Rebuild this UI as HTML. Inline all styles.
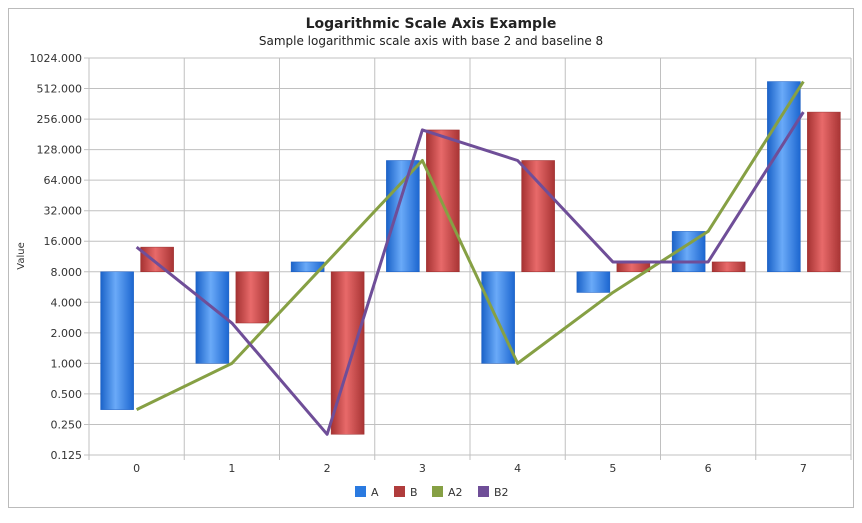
<!DOCTYPE html>
<html><head><meta charset="utf-8"><style>
body{margin:0;background:#fff;}
svg text{font-family:"DejaVu Sans","Liberation Sans",sans-serif;}
</style></head><body>
<svg id="chart" width="862" height="518" xmlns="http://www.w3.org/2000/svg">
<defs>
<linearGradient id="gA" x1="0" x2="1" y1="0" y2="0"><stop offset="0" stop-color="#1a62c8"/><stop offset="0.45" stop-color="#6aaaf8"/><stop offset="1" stop-color="#1c66d0"/></linearGradient>
<linearGradient id="gB" x1="0" x2="1" y1="0" y2="0"><stop offset="0" stop-color="#a53232"/><stop offset="0.45" stop-color="#e86a6a"/><stop offset="1" stop-color="#a83434"/></linearGradient>
</defs>
<rect x="8.5" y="8.5" width="845" height="499" fill="#fff" stroke="#bbb"/>
<text x="431" y="28" text-anchor="middle" font-size="14" font-weight="bold" fill="#222">Logarithmic Scale Axis Example</text>
<text x="431" y="45" text-anchor="middle" font-size="12" fill="#222">Sample logarithmic scale axis with base 2 and baseline 8</text>
<text transform="translate(24,256) rotate(-90)" text-anchor="middle" font-size="10" fill="#333">Value</text>
<g id="grid"></g><g id="bars"></g><g id="lines"></g><g id="legend"></g>
</svg>
<script>
const categories=["0","1","2","3","4","5","6","7"];
const seriesA=[0.35,1,10,100,1,5,20,600];
const seriesB=[14,2.5,0.2,200,100,10,10,300];
const seriesA2=[0.35,1,10,100,1,5,20,600];
const seriesB2=[14,2.5,0.2,200,100,10,10,300];
const yTicks=[0.125,0.25,0.5,1,2,4,8,16,32,64,128,256,512,1024];
const baseline=8;
const NS="http://www.w3.org/2000/svg";
const L=89,R=851,T=58,B=455;
const lmin=Math.log2(0.125),lmax=Math.log2(1024);
function y(v){return B-(Math.log2(v)-lmin)/(lmax-lmin)*(B-T);}
const bw=(R-L)/categories.length;
function xc(i){return L+bw*(i+0.5);}
function mk(tag,attrs,parent){const e=document.createElementNS(NS,tag);for(const k in attrs)e.setAttribute(k,attrs[k]);parent.appendChild(e);return e;}
const grid=document.getElementById('grid');
yTicks.forEach(t=>{
 const l=mk('line',{x1:L-5,x2:R,y1:y(t),y2:y(t),stroke:'#c0c0c0'},grid);
 
 
 const tx=mk('text',{x:L-7,y:y(t)+4,'text-anchor':'end','font-size':11,fill:'#333'},grid);
 tx.textContent=t.toFixed(3);
 
 
});
for(let i=0;i<=categories.length;i++){
 const x=L+bw*i;
 const l=mk('line',{x1:x,x2:x,y1:T,y2:B+5,stroke:'#c0c0c0'},grid);
 
 
}
categories.forEach((c,i)=>{
 const tx=mk('text',{x:xc(i),y:B+17,'text-anchor':'middle','font-size':11,fill:'#333'},grid);
 tx.textContent=c;
 
 
});
const bars=document.getElementById('bars');
function drawBars(arr,off,fill,stroke,name){
 arr.forEach((v,i)=>{
  const y1=y(v),y0=y(baseline);
  const r=mk('rect',{x:xc(i)+off,y:Math.min(y0,y1),width:33,height:Math.abs(y1-y0),fill:fill,stroke:stroke,'stroke-width':0.5},bars);
  
  
 });
}
drawBars(seriesA,-36,'url(#gA)','#1a5cc0','a');
drawBars(seriesB,4,'url(#gB)','#9a2e2e','b');
const lines=document.getElementById('lines');
function drawLine(arr,color,name){
 const p=mk('polyline',{points:arr.map((v,i)=>xc(i)+','+y(v)).join(' '),fill:'none',stroke:color,'stroke-width':3,'stroke-linejoin':'round'},lines);
 
 
}
drawLine(seriesA2,'#86a044','a2');
drawLine(seriesB2,'#6f4e98','b2');
const lg=document.getElementById('legend');
[["A","#2a7ae0",355],["B","#b03c3c",394],["A2","#86a044",432],["B2","#6f4e98",478]].forEach(e=>{
 const g=mk('g',{},lg);
 
 
 mk('rect',{x:e[2],y:486,width:11,height:11,fill:e[1]},g);
 const t=mk('text',{x:e[2]+16,y:496,'font-size':11,fill:'#333'},g);
 t.textContent=e[0];
});
</script>
</body></html>
